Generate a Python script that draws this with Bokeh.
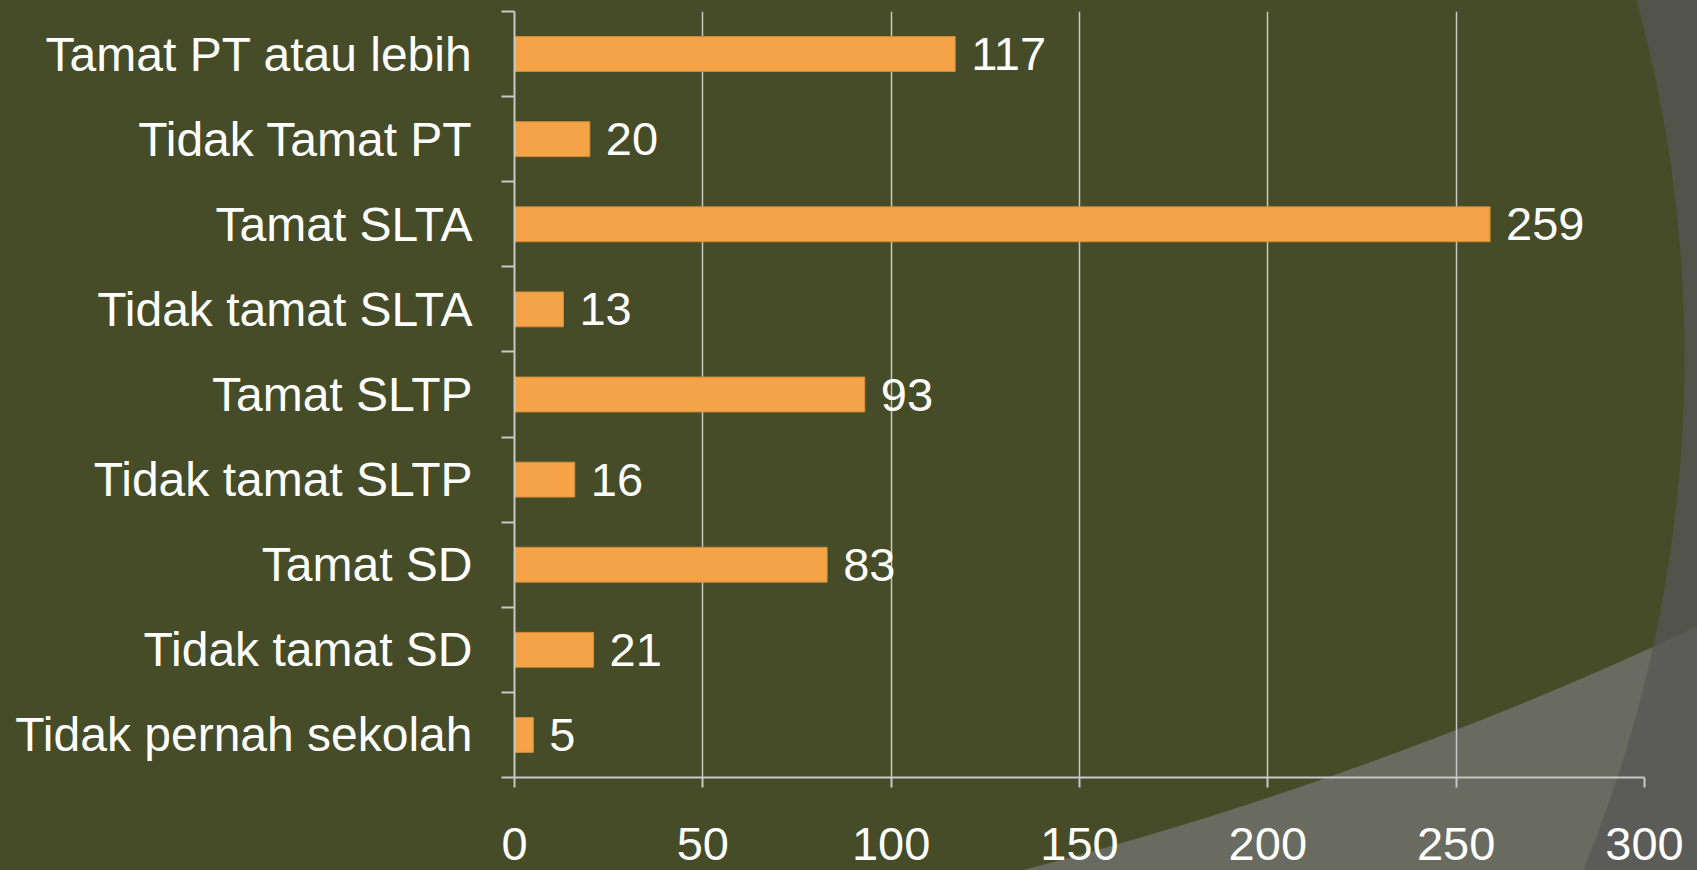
import numpy as np
from bokeh.plotting import figure
from bokeh.models import ColumnDataSource, FixedTicker, Range1d, InlineStyleSheet
from bokeh.core.properties import value
from bokeh.embed import file_html
from bokeh.resources import INLINE

# categories from bottom to top
categories = [
    "Tidak pernah sekolah",
    "Tidak tamat SD",
    "Tamat SD",
    "Tidak tamat SLTP",
    "Tamat SLTP",
    "Tidak tamat SLTA",
    "Tamat SLTA",
    "Tidak Tamat PT",
    "Tamat PT atau lebih",
]
counts = [5, 21, 83, 16, 93, 13, 259, 20, 117]
x_ticks = [0, 50, 100, 150, 200, 250, 300]

BG = "#454C27"
BAR = "#F4A447"
GRID = "#C8C8C8"
FONT = "Liberation Sans"

n = len(categories)
centers = list(np.arange(n) + 0.5)
bounds = list(range(n + 1))

src = ColumnDataSource(dict(
    y=centers,
    v=counts,
    lbl=[str(c) for c in counts],
))

# decorative slide background (theme swooshes), drawn by CSS behind the chart
slide_bg = InlineStyleSheet(css=f"""
:host {{
  background:
    radial-gradient(circle 1351px at 334px 357px, rgba(0,0,0,0) 1350px, rgba(86,86,86,0.75) 1351px),
    radial-gradient(circle 3893px at 43px -2897px, rgba(0,0,0,0) 3892px, #6A6B60 3893px),
    {BG};
}}
""")

p = figure(
    width=1697, height=870,
    x_range=Range1d(0, 300), y_range=Range1d(0, n),
    output_backend="svg", toolbar_location=None,
    min_border_left=514, min_border_right=53,
    min_border_top=11, min_border_bottom=93,
    background_fill_color=None, border_fill_color=None,
    stylesheets=[slide_bg],
)
p.outline_line_color = None

p.hbar(y="y", right="v", left=0, height=0.41, source=src,
       fill_color=BAR, line_color="#D18C3C", line_width=1)

p.text(x="v", y="y", text="lbl", source=src, x_offset=16,
       text_color="white", text_font=value(FONT), text_font_size="47px",
       text_baseline="middle", text_align="left")

# x axis
p.xaxis.ticker = FixedTicker(ticks=x_ticks)
p.xaxis.axis_line_color = GRID
p.xaxis.axis_line_width = 2
p.xaxis.major_tick_line_color = GRID
p.xaxis.major_tick_line_width = 2
p.xaxis.major_tick_out = 10
p.xaxis.major_tick_in = 0
p.xaxis.minor_tick_line_color = None
p.xaxis.major_label_standoff = 40
p.xaxis.major_label_text_color = "white"
p.xaxis.major_label_text_font = FONT
p.xaxis.major_label_text_font_size = "47px"

# y axis: labels at centers, tick marks at boundaries
p.yaxis.ticker = FixedTicker(ticks=centers, minor_ticks=bounds)
p.yaxis.major_label_overrides = {c: cat for c, cat in zip(centers, categories)}
p.yaxis.axis_line_color = GRID
p.yaxis.axis_line_width = 2
p.yaxis.major_tick_line_color = None
p.yaxis.major_tick_out = 0
p.yaxis.major_tick_in = 0
p.yaxis.minor_tick_line_color = GRID
p.yaxis.minor_tick_line_width = 2
p.yaxis.minor_tick_out = 13
p.yaxis.minor_tick_in = 0
p.yaxis.major_label_standoff = 29
p.yaxis.major_label_text_color = "white"
p.yaxis.major_label_text_font = FONT
p.yaxis.major_label_text_font_size = "48px"

p.xgrid.ticker = FixedTicker(ticks=x_ticks)
p.xgrid.grid_line_color = GRID
p.xgrid.grid_line_width = 1.5
p.ygrid.grid_line_color = None

open("out.html", "w").write(file_html(p, INLINE))
